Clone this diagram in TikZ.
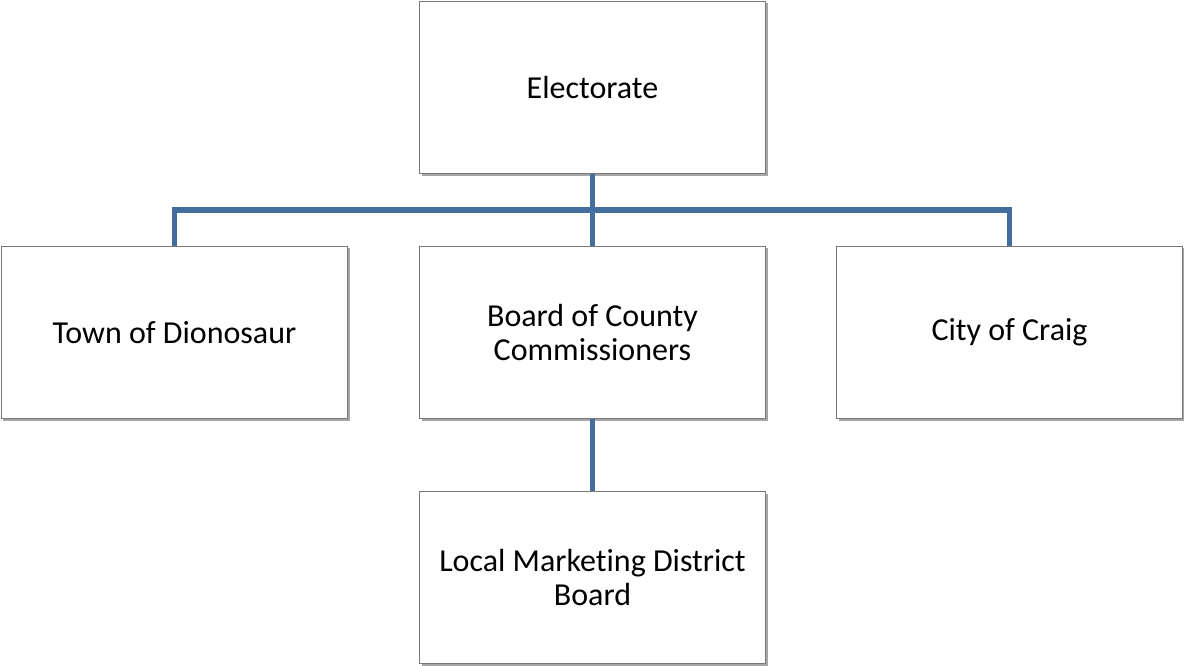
\documentclass[tikz,border=0pt]{standalone}
\usepackage{fontspec}
\setmainfont{Carlito}[Ligatures={NoCommon}]
\usetikzlibrary{shadows}
\definecolor{linkblue}{RGB}{68,110,160}
\definecolor{boxgray}{RGB}{120,120,120}
\tikzset{
  orgbox/.style={draw=boxgray, line width=1bp, fill=white, minimum width=346bp, minimum height=172bp,
    inner sep=0pt, align=center, font=\fontsize{32bp}{34bp}\selectfont,
    drop shadow={shadow xshift=2bp, shadow yshift=-2bp, opacity=0.35, fill=black}},
  link/.style={draw=linkblue, line width=5bp}
}
\begin{document}
\begin{tikzpicture}[x=1bp,y=-1bp]
\useasboundingbox (0,0) rectangle (1184,666);
\fill[white] (0,0) rectangle (1184,666);
\node[orgbox] (E) at (592.5,87.5) {Electorate};
\node[orgbox] (T) at (174.5,332.5) {Town of Dionosaur};
\node[orgbox] (B) at (592.5,332.5) {Board of County\\Commissioners};
\node[orgbox] (C) at (1009.5,332.5) {City of Craig};
\node[orgbox] (L) at (592.5,577.5) {Local Marketing District\\Board};
\coordinate (bus) at (592.5,210);
\draw[link] (E.south) -- (B.north);
\draw[link] (T.north) -- (T.north |- bus) -- (C.north |- bus) -- (C.north);
\draw[link] (B.south) -- (L.north);
\end{tikzpicture}
\end{document}
